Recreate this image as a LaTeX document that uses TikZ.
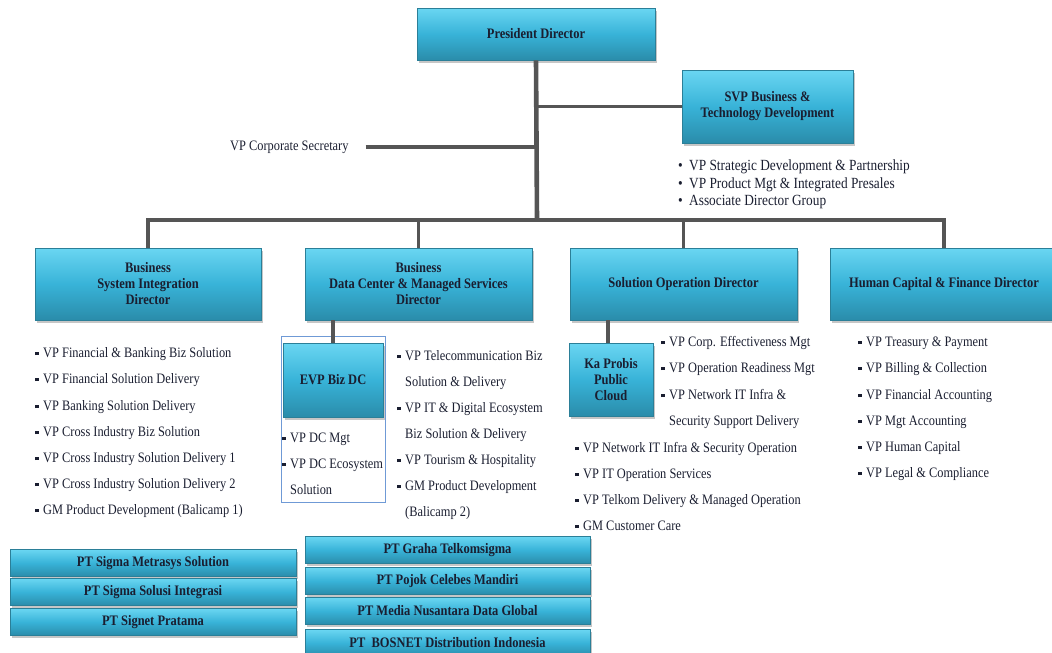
\documentclass[tikz,border=0pt]{standalone}
\usepackage{fontspec}
\setmainfont[FakeStretch=0.86]{Liberation Serif}
\usetikzlibrary{shadows}
\definecolor{boxtop}{HTML}{6AD6F2}
\definecolor{boxmid}{HTML}{38B3D8}
\definecolor{boxbot}{HTML}{2A8CAA}
\definecolor{boxedge}{HTML}{2B7F98}
\definecolor{linegray}{HTML}{555555}
\definecolor{inktext}{HTML}{1A1E30}
\definecolor{frameblue}{HTML}{6F9AD6}
\newcommand{\sqbul}{\rule[2.4pt]{3.4pt}{3.4pt}\hspace{4.6pt}}
\newcommand{\rdbul}{\makebox[11pt][l]{\textbullet}}
\begin{document}
\begin{tikzpicture}[x=1pt,y=-1pt]
\tikzstyle{box}=[draw=boxedge,line width=0.6pt,top color=boxtop,bottom color=boxbot,middle color=boxmid,text=inktext,font=\bfseries\fontsize{14.5}{16}\selectfont,align=center,inner sep=0pt,drop shadow={shadow xshift=2pt,shadow yshift=-2.5pt,opacity=0.45}]
\tikzstyle{ptbox}=[box,minimum height=27pt]
\tikzstyle{item}=[anchor=base west,inner sep=0pt,text=inktext,font=\fontsize{14.4}{16}\selectfont]
\tikzstyle{link}=[draw=linegray,line width=3.6pt]
\useasboundingbox (0,0) rectangle (1052,653);
% top level
\node[box,minimum width=238pt,minimum height=52pt] at (536,34) (pres) {President Director};
\node[box,minimum width=171pt,minimum height=73pt] at (767.5,106.5) (svp) {SVP Business \&\\Technology Development};
\node[item,anchor=base west] at (230,150.5) (corpsec) {VP Corporate Secretary};
\node[item,font=\fontsize{15.5}{17}\selectfont] at (678,170.5) (svp1) {\rdbul VP Strategic Development \& Partnership};
\node[item,font=\fontsize{15.5}{17}\selectfont] at (678,188.5) (svp2) {\rdbul VP Product Mgt \& Integrated Presales};
\node[item,font=\fontsize{15.5}{17}\selectfont] at (678,205.5) (svp3) {\rdbul Associate Director Group};
\coordinate (hub) at (537,220);
% directors
\node[box,minimum width=226pt,minimum height=72pt] at (148,284) (bsi) {Business\\System Integration\\Director};
\node[box,minimum width=227pt,minimum height=72pt] at (418.5,284) (bdc) {Business\\Data Center \& Managed Services\\Director};
\node[box,minimum width=227pt,minimum height=72pt] at (683.5,284) (sod) {Solution Operation Director};
\node[box,minimum width=228pt,minimum height=72pt] at (944,284) (hcf) {Human Capital \& Finance Director};
\node[draw=frameblue,line width=0.8pt,minimum width=104pt,minimum height=166pt,inner sep=0pt] at (333,419) (evpframe) {};
\node[box,minimum width=100pt,minimum height=74pt] at (333,380) (evp) {EVP Biz DC};
\node[box,minimum width=84pt,minimum height=73pt] at (611,379.5) (probis) {Ka Probis\\Public\\Cloud};
% connectors
\draw[link,line width=4.6pt] (pres.south) -- (hub);
\draw[link] (svp.west) -- (svp.west -| hub);
\draw[link,shorten <=17pt] (corpsec.east) -- (corpsec.east -| hub);
\draw[link] (hub) -| (bsi.north);
\draw[link] (hub) -| (bdc.north);
\draw[link] (hub) -| (sod.north);
\draw[link] (hub) -| (hcf.north);
\draw[link] (evp.north |- bdc.south) -- (evp.north);
\draw[link] ([xshift=-3pt]probis.north |- sod.south) -- ([xshift=-3pt]probis.north);
% business system integration
\node[item] at (35,357.5) (bsi1) {\sqbul VP Financial \& Banking Biz Solution};
\node[item] at (35,383.5) (bsi2) {\sqbul VP Financial Solution Delivery};
\node[item] at (35,410.5) (bsi3) {\sqbul VP Banking Solution Delivery};
\node[item] at (35,436.5) (bsi4) {\sqbul VP Cross Industry Biz Solution};
\node[item] at (35,462.5) (bsi5) {\sqbul VP Cross Industry Solution Delivery 1};
\node[item] at (35,488.5) (bsi6) {\sqbul VP Cross Industry Solution Delivery 2};
\node[item] at (35,514.5) (bsi7) {\sqbul GM Product Development (Balicamp 1)};
% evp biz dc
\node[item] at (282,442.5) (evp1) {\sqbul VP DC Mgt};
\node[item] at (282,468.5) (evp2) {\sqbul VP DC Ecosystem};
\node[item] at (290,494.5) (evp2b) {Solution};
% data center
\node[item] at (397,360.5) (bdc1) {\sqbul VP Telecommunication Biz};
\node[item] at (405,386.5) (bdc1b) {Solution \& Delivery};
\node[item] at (397,412.5) (bdc2) {\sqbul VP IT \& Digital Ecosystem};
\node[item] at (405,438.5) (bdc2b) {Biz Solution \& Delivery};
\node[item] at (397,464.5) (bdc3) {\sqbul VP Tourism \& Hospitality};
\node[item] at (397,490.5) (bdc4) {\sqbul GM Product Development};
\node[item] at (405,516.5) (bdc4b) {(Balicamp 2)};
% solution operation
\node[item] at (661,346.5) (sod1) {\sqbul VP Corp. Effectiveness Mgt};
\node[item] at (661,372.5) (sod2) {\sqbul VP Operation Readiness Mgt};
\node[item] at (661,399.5) (sod3) {\sqbul VP Network IT Infra \&};
\node[item] at (669,425.5) (sod3b) {Security Support Delivery};
\node[item] at (575,452.5) (sod4) {\sqbul VP Network IT Infra \& Security Operation};
\node[item] at (575,478.5) (sod5) {\sqbul VP IT Operation Services};
\node[item] at (575,504.5) (sod6) {\sqbul VP Telkom Delivery \& Managed Operation};
\node[item] at (575,530.5) (sod7) {\sqbul GM Customer Care};
% human capital & finance
\node[item] at (858,346.5) (hcf1) {\sqbul VP Treasury \& Payment};
\node[item] at (858,372.5) (hcf2) {\sqbul VP Billing \& Collection};
\node[item] at (858,399.5) (hcf3) {\sqbul VP Financial Accounting};
\node[item] at (858,425.5) (hcf4) {\sqbul VP Mgt Accounting};
\node[item] at (858,451.5) (hcf5) {\sqbul VP Human Capital};
\node[item] at (858,477.5) (hcf6) {\sqbul VP Legal \& Compliance};
% subsidiaries
\node[ptbox,minimum width=286pt] at (153,563) (pt1) {PT Sigma Metrasys Solution};
\node[ptbox,minimum width=286pt] at (153,592) (pt2) {PT Sigma Solusi Integrasi};
\node[ptbox,minimum width=286pt] at (153,622) (pt3) {PT Signet Pratama};
\node[ptbox,minimum width=285pt] at (447.5,550) (pt4) {PT Graha Telkomsigma};
\node[ptbox,minimum width=285pt] at (447.5,581) (pt5) {PT Pojok Celebes Mandiri};
\node[ptbox,minimum width=285pt] at (447.5,611) (pt6) {PT Media Nusantara Data Global};
\node[ptbox,minimum width=285pt] at (447.5,643) (pt7) {PT\ \ BOSNET Distribution Indonesia};
\end{tikzpicture}
\end{document}
